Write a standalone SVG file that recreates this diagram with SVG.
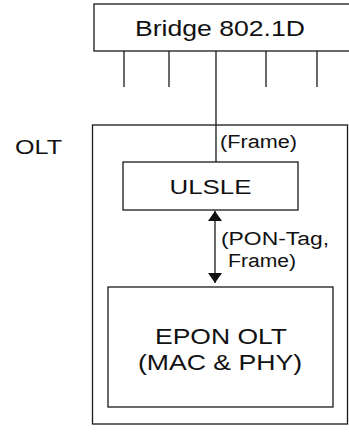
<svg xmlns="http://www.w3.org/2000/svg" width="349" height="432" viewBox="0 0 349 432">
<defs>
<style>
.box{fill:#fff;stroke:#1a1a1a;stroke-width:1.3}
.ln{fill:none;stroke:#1a1a1a;stroke-width:1.3}
.t{font-family:"Liberation Sans",Arial,sans-serif;fill:#111}
</style>
<marker id="ah" viewBox="0 0 10 14" refX="10" refY="7" markerWidth="10" markerHeight="14" markerUnits="userSpaceOnUse" orient="auto">
<path d="M0,0 L10,7 L0,14 z" fill="#111"/>
</marker>
</defs>
<rect width="349" height="432" fill="#fff"/>
<g id="olt">
<rect class="box" x="92.5" y="125" width="255" height="299"/>
<text class="t" x="15" y="154" font-size="20" textLength="47" lengthAdjust="spacingAndGlyphs">OLT</text>
</g>
<g id="bridge">
<rect class="box" x="94" y="4" width="260" height="47"/>
<text class="t" x="220" y="36" font-size="22" text-anchor="middle" textLength="170" lengthAdjust="spacingAndGlyphs">Bridge 802.1D</text>
</g>
<g id="ulsle">
<rect class="box" x="123" y="162" width="175" height="48"/>
<text class="t" x="210.5" y="194" font-size="20" text-anchor="middle" textLength="82" lengthAdjust="spacingAndGlyphs">ULSLE</text>
</g>
<g id="epon">
<rect class="box" x="108" y="287" width="225" height="120"/>
<text class="t" x="221" y="344" font-size="22" text-anchor="middle" textLength="132" lengthAdjust="spacingAndGlyphs">EPON OLT</text>
<text class="t" x="220" y="370" font-size="22" text-anchor="middle" textLength="164" lengthAdjust="spacingAndGlyphs">(MAC &amp; PHY)</text>
</g>
<g id="connectors">
<line class="ln" x1="124" y1="51" x2="124" y2="87"/>
<line class="ln" x1="169" y1="51" x2="169" y2="87"/>
<line class="ln" x1="266" y1="51" x2="266" y2="87"/>
<line class="ln" x1="317" y1="51" x2="317" y2="87"/>
<line class="ln" x1="216" y1="51" x2="216" y2="162"/>
<text class="t" x="220" y="148" font-size="18" textLength="77" lengthAdjust="spacingAndGlyphs">(Frame)</text>
<line class="ln" x1="215" y1="240" x2="215" y2="211" marker-end="url(#ah)"/>
<line class="ln" x1="215" y1="240" x2="215" y2="283" marker-end="url(#ah)"/>
<text class="t" x="221" y="245" font-size="18" textLength="108" lengthAdjust="spacingAndGlyphs">(PON-Tag,</text>
<text class="t" x="228" y="267" font-size="18" textLength="68" lengthAdjust="spacingAndGlyphs">Frame)</text>
</g>
</svg>
